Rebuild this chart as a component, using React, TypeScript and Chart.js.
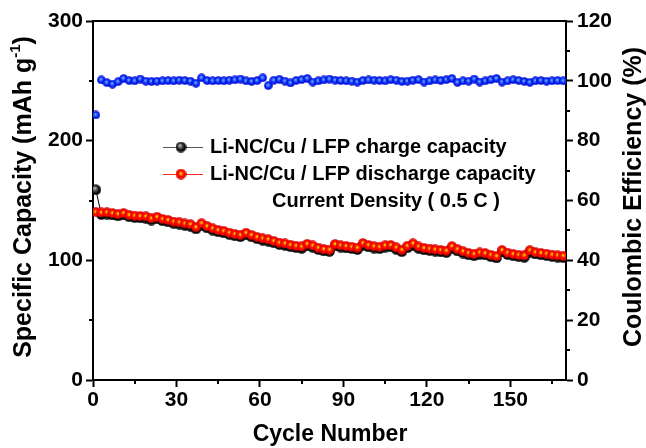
import React, { useEffect, useRef } from "react";
import { Chart, registerables } from "chart.js";

Chart.register(...registerables);

const cycles = [
  1, 3, 5, 7, 9, 11, 13, 15, 17, 19,
  21, 23, 25, 27, 29, 31, 33, 35, 37, 39,
  41, 43, 45, 47, 49, 51, 53, 55, 57, 59,
  61, 63, 65, 67, 69, 71, 73, 75, 77, 79,
  81, 83, 85, 87, 89, 91, 93, 95, 97, 99,
  101, 103, 105, 107, 109, 111, 113, 115, 117, 119,
  121, 123, 125, 127, 129, 131, 133, 135, 137, 139,
  141, 143, 145, 147, 149, 151, 153, 155, 157, 159,
  161, 163, 165, 167, 169,
];

const chargeCapacity = [
  159.0, 138.4, 138.7, 137.9, 137.2, 138.0, 136.5, 135.8, 135.5, 135.2,
  133.7, 134.8, 133.1, 132.2, 130.9, 130.3, 129.3, 128.6, 126.3, 129.4,
  127.1, 125.3, 123.9, 123.0, 121.7, 120.5, 119.8, 121.4, 119.7, 118.1,
  116.8, 116.1, 114.7, 113.3, 112.6, 111.5, 110.7, 110.0, 112.2, 110.9,
  109.1, 107.9, 107.5, 112.0, 111.1, 110.4, 109.9, 109.1, 112.8, 111.3,
  110.3, 109.8, 111.1, 111.2, 109.3, 107.3, 110.6, 112.7, 110.1, 108.8,
  108.3, 107.7, 107.1, 106.6, 110.3, 107.9, 106.1, 104.7, 103.9, 105.0,
  104.5, 103.1, 102.1, 107.0, 104.9, 103.9, 103.1, 102.6, 106.9, 105.3,
  104.7, 104.1, 103.3, 102.7, 102.3,
];

const dischargeCapacity = [
  140.5, 140.0, 140.2, 139.5, 138.8, 139.6, 138.0, 137.4, 137.0, 136.8,
  135.2, 136.4, 134.6, 133.8, 132.4, 131.9, 130.8, 130.2, 127.8, 131.0,
  128.6, 126.8, 125.4, 124.6, 123.2, 122.0, 121.4, 123.0, 121.2, 119.6,
  118.4, 117.6, 116.2, 114.8, 114.2, 113.0, 112.2, 111.6, 113.8, 112.4,
  110.6, 109.4, 109.0, 113.6, 112.6, 112.0, 111.4, 110.6, 114.4, 112.8,
  111.8, 111.4, 112.6, 112.8, 110.8, 108.8, 112.2, 114.2, 111.6, 110.4,
  109.8, 109.2, 108.6, 108.2, 111.8, 109.4, 107.6, 106.2, 105.4, 106.6,
  106.0, 104.6, 103.6, 108.6, 106.4, 105.4, 104.6, 104.2, 108.4, 106.8,
  106.2, 105.6, 104.8, 104.2, 103.8,
];

const coulombicEfficiency = [
  88.6, 100.3, 99.4, 98.9, 99.7, 100.8, 100.1, 100.0, 100.6, 99.9,
  99.8, 99.9, 100.0, 100.1, 100.0, 100.2, 100.1, 99.9, 99.2, 101.0,
  100.1, 100.0, 100.1, 100.0, 100.2, 100.3, 100.6, 100.0, 99.8, 100.1,
  101.0, 98.4, 100.2, 100.5, 99.9, 99.3, 100.1, 100.4, 100.8, 99.6,
  100.0, 100.3, 100.6, 100.2, 100.1, 100.0, 99.9, 99.6, 100.1, 100.3,
  100.2, 100.1, 100.0, 100.4, 100.2, 99.8, 99.9, 100.2, 100.4, 99.6,
  100.0, 100.3, 100.1, 100.4, 100.8, 99.5, 100.0, 99.9, 100.6, 99.6,
  100.0, 100.4, 100.8, 99.6, 100.0, 100.4, 100.1, 99.8, 99.5, 100.0,
  100.1, 99.9, 100.0, 100.1, 100.0,
];

const xTicks = [0, 30, 60, 90, 120, 150];
const xMinorTicks = [15, 45, 75, 105, 135, 165];
const capacityTicks = [0, 100, 200, 300];
const capacityMinorTicks = [50, 150, 250];
const efficiencyTicks = [0, 20, 40, 60, 80, 100, 120];
const efficiencyMinorTicks = [10, 30, 50, 70, 90, 110];

const chargeLabel = "Li-NC/Cu / LFP charge capacity";
const dischargeLabel = "Li-NC/Cu / LFP discharge capacity";
const noteLabel = "Current Density ( 0.5 C )";

const FONT = "'Liberation Sans', Arial, sans-serif";

// Shaded sphere sprite used as a point style.
function makeBall(d: number, stops: [number, string][], hx = 0.5, hy = 0.45) {
  const c = document.createElement("canvas");
  c.width = d;
  c.height = d;
  const g = c.getContext("2d")!;
  const r = d / 2;
  const grad = g.createRadialGradient(d * hx, d * hy, 0, r, r, r);
  stops.forEach(([o, col]) => grad.addColorStop(o, col));
  g.fillStyle = grad;
  g.beginPath();
  g.arc(r, r, r - 0.2, 0, Math.PI * 2);
  g.fill();
  return c;
}

const RED_STOPS: [number, string][] = [[0, "#ffe800"], [0.2, "#ffa800"], [0.42, "#ff1400"], [0.85, "#f00000"], [1, "#a00000"]];
const BLUE_STOPS: [number, string][] = [[0, "#9ccfff"], [0.32, "#2a62ff"], [0.75, "#0010f0"], [1, "#0008b0"]];
const BLACK_STOPS: [number, string][] = [[0, "#f4f4f4"], [0.25, "#808080"], [0.65, "#141414"], [1, "#000"]];

export default function App() {
  const ref = useRef<HTMLCanvasElement | null>(null);

  useEffect(() => {
    if (!ref.current) return;

    const redBall = makeBall(10, RED_STOPS);
    const blueBall = makeBall(9, BLUE_STOPS, 0.45, 0.42);
    const blackBall = makeBall(11, BLACK_STOPS, 0.38, 0.34);
    const redLegend = makeBall(11, RED_STOPS);
    const blackLegend = makeBall(11, BLACK_STOPS, 0.38, 0.34);

    const tickFont = { family: FONT, size: 21, weight: "bold" as const };

    const decorations = {
      id: "decorations",
      afterDraw(chart: Chart) {
        const ctx = chart.ctx;
        const { left, right, top, bottom } = chart.chartArea;
        const xs = chart.scales.x;
        const ys = chart.scales.y;
        const y1 = chart.scales.y1;
        ctx.save();
        ctx.strokeStyle = "#000";
        ctx.lineWidth = 2;
        // top frame line
        ctx.beginPath();
        ctx.moveTo(left - 1, top);
        ctx.lineTo(right + 1, top);
        ctx.stroke();
        // minor ticks
        ctx.beginPath();
        xMinorTicks.forEach((v) => {
          const px = Math.round(xs.getPixelForValue(v));
          ctx.moveTo(px, bottom);
          ctx.lineTo(px, bottom + 4);
        });
        capacityMinorTicks.forEach((v) => {
          const py = Math.round(ys.getPixelForValue(v));
          ctx.moveTo(left, py);
          ctx.lineTo(left - 4, py);
        });
        efficiencyMinorTicks.forEach((v) => {
          const py = Math.round(y1.getPixelForValue(v));
          ctx.moveTo(right, py);
          ctx.lineTo(right + 4, py);
        });
        ctx.stroke();

        ctx.fillStyle = "#000";
        ctx.textBaseline = "middle";

        // x title
        ctx.font = `bold 23px ${FONT}`;
        ctx.textAlign = "center";
        ctx.fillText("Cycle Number", 330, 435);

        // left title with superscript
        const main = "Specific Capacity (mAh g";
        const sup = "-1";
        const tail = ")";
        ctx.font = `bold 25px ${FONT}`;
        const wMain = ctx.measureText(main).width;
        const wTail = ctx.measureText(tail).width;
        ctx.font = `bold 15px ${FONT}`;
        const wSup = ctx.measureText(sup).width;
        const total = wMain + wSup + wTail;
        ctx.save();
        ctx.translate(24, 197);
        ctx.rotate(-Math.PI / 2);
        ctx.textAlign = "left";
        let x0 = -total / 2;
        ctx.font = `bold 25px ${FONT}`;
        ctx.fillText(main, x0, 0);
        x0 += wMain;
        ctx.font = `bold 15px ${FONT}`;
        ctx.fillText(sup, x0, -8);
        x0 += wSup;
        ctx.font = `bold 25px ${FONT}`;
        ctx.fillText(tail, x0, 0);
        ctx.restore();

        // right title
        ctx.save();
        ctx.translate(634, 197);
        ctx.rotate(-Math.PI / 2);
        ctx.textAlign = "center";
        ctx.font = `bold 25px ${FONT}`;
        ctx.fillText("Coulombic Efficiency (%)", 0, 0);
        ctx.restore();

        // legend
        ctx.lineWidth = 1;
        ctx.textAlign = "left";
        ctx.font = `bold 20px ${FONT}`;
        const rows: [string, string, HTMLCanvasElement, number][] = [
          [chargeLabel, "#555", blackLegend, 147],
          [dischargeLabel, "#ff2a1a", redLegend, 174],
        ];
        rows.forEach(([label, col, ball, yy]) => {
          ctx.strokeStyle = col;
          ctx.beginPath();
          ctx.moveTo(163, yy + 0.5);
          ctx.lineTo(203, yy + 0.5);
          ctx.stroke();
          ctx.drawImage(ball, 181 - ball.width / 2, yy - ball.height / 2);
          ctx.fillText(label, 210, yy);
        });
        ctx.fillText(noteLabel, 272, 201);
        ctx.restore();
      },
    };

    const chart = new Chart(ref.current, {
      type: "line",
      data: {
        datasets: [
          {
            label: "CE",
            data: cycles.map((c, i) => ({ x: c, y: coulombicEfficiency[i] })),
            yAxisID: "y1",
            borderColor: "#1a3cff",
            borderWidth: 1,
            showLine: false,
            pointStyle: blueBall,
            order: 0,
          },
          {
            label: dischargeLabel,
            data: cycles.map((c, i) => ({ x: c, y: dischargeCapacity[i] })),
            yAxisID: "y",
            borderColor: "#ff2a1a",
            borderWidth: 1,
            pointStyle: redBall,
            order: 1,
          },
          {
            label: chargeLabel,
            data: cycles.map((c, i) => ({ x: c, y: chargeCapacity[i] })),
            yAxisID: "y",
            borderColor: "#000",
            borderWidth: 1,
            pointStyle: blackBall,
            order: 2,
          },
        ],
      },
      options: {
        animation: false,
        responsive: false,
        layout: { padding: { top: 21, left: 0, right: 0, bottom: 0 } },
        plugins: { legend: { display: false }, tooltip: { enabled: false } },
        scales: {
          x: {
            type: "linear",
            min: 0,
            max: 170,
            afterBuildTicks: (s: any) => {
              s.ticks = xTicks.map((v) => ({ value: v }));
            },
            afterFit: (s: any) => {
              s.height = 68;
            },
            border: { color: "#000", width: 2 },
            grid: { drawOnChartArea: false, tickLength: 7, tickWidth: 2, tickColor: "#000" },
            ticks: { font: tickFont, color: "#000", padding: 1, maxRotation: 0, autoSkip: false },
          },
          y: {
            type: "linear",
            position: "left",
            min: 0,
            max: 300,
            afterBuildTicks: (s: any) => {
              s.ticks = capacityTicks.map((v) => ({ value: v }));
            },
            afterFit: (s: any) => {
              s.width = 93;
            },
            border: { color: "#000", width: 2 },
            grid: { drawOnChartArea: false, tickLength: 7, tickWidth: 2, tickColor: "#000" },
            ticks: { font: tickFont, color: "#000", padding: 3 },
          },
          y1: {
            type: "linear",
            position: "right",
            min: 0,
            max: 120,
            afterBuildTicks: (s: any) => {
              s.ticks = efficiencyTicks.map((v) => ({ value: v }));
            },
            afterFit: (s: any) => {
              s.width = 80;
            },
            border: { color: "#000", width: 2 },
            grid: { drawOnChartArea: false, tickLength: 7, tickWidth: 2, tickColor: "#000" },
            ticks: { font: tickFont, color: "#000", padding: 4 },
          },
        },
      },
      plugins: [decorations],
    });

    return () => chart.destroy();
  }, []);

  return (
    <div style={{ position: "absolute", left: 0, top: 0, width: 646, height: 448, background: "#fff" }}>
      <canvas ref={ref} width={646} height={448} style={{ display: "block" }} />
    </div>
  );
}
